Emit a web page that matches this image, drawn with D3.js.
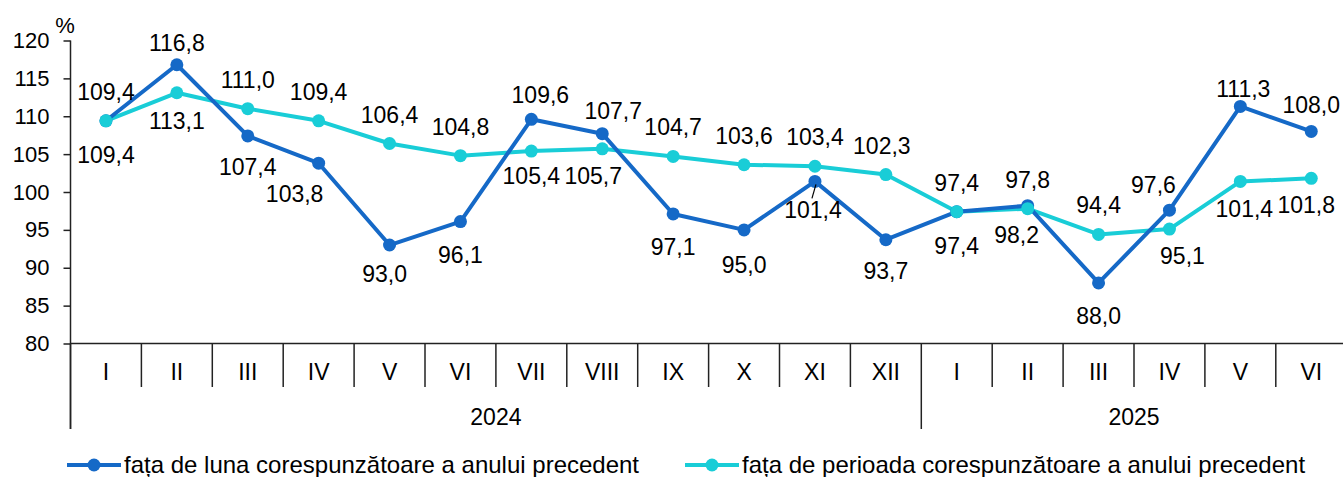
<!DOCTYPE html>
<html>
<head>
<meta charset="utf-8">
<script src="https://cdn.jsdelivr.net/npm/d3@7"></script>
<style>
  body { margin: 0; background: #fff; }
  svg { display: block; font-family: "Liberation Sans", Arial, sans-serif; }
  .axis text { font-size: 22px; fill: #000; }
  .axis path, .axis line { stroke: #222; stroke-width: 1.5; }
  .label { font-size: 23px; fill: #000; }
</style>
</head>
<body>
<div id="graphic"></div>
<script>
// months along the x axis, grouped by year
const months = ["I", "II", "III", "IV", "V", "VI", "VII", "VIII", "IX", "X", "XI", "XII",
                "I", "II", "III", "IV", "V", "VI"];
const yearLabels = ["2024", "2025"];
const monthsPerYear = [12, 6];

// fata de luna corespunzatoare a anului precedent
const lunaValues = [109.4, 116.8, 107.4, 103.8, 93.0, 96.1, 109.6, 107.7, 97.1, 95.0, 101.4, 93.7,
                    97.4, 98.2, 88.0, 97.6, 111.3, 108.0];
// fata de perioada corespunzatoare a anului precedent
const perioadaValues = [109.4, 113.1, 111.0, 109.4, 106.4, 104.8, 105.4, 105.7, 104.7, 103.6, 103.4, 102.3,
                        97.4, 97.8, 94.4, 95.1, 101.4, 101.8];

const seriesNames = ["fața de luna corespunzătoare a anului precedent",
                     "fața de perioada corespunzătoare a anului precedent"];

const yTicks = [80, 85, 90, 95, 100, 105, 110, 115, 120];

// which side of the point each value label sits on
const lunaSide = ["b", "a", "b", "b", "b", "b", "a", "a", "b", "b", "b", "b", "b", "b", "b", "a", "a", "a"];
const perioadaSide = ["a", "b", "a", "a", "a", "a", "b", "b", "a", "a", "a", "a", "a", "a", "a", "b", "b", "b"];

const width = 1343, height = 477;
const margin = {left: 70.5, right: 1346.7, top: 40.5, bottom: 343.5};
const colors = ["#1569c7", "#19cdd7"];

const svg = d3.select("#graphic").append("svg")
    .attr("width", width)
    .attr("height", height);

const x = d3.scaleBand()
    .domain(d3.range(months.length))
    .range([margin.left, margin.right]);

const y = d3.scaleLinear()
    .domain([80, 120])
    .range([margin.bottom, margin.top]);

// y axis
const gy = svg.append("g")
    .attr("class", "axis")
    .attr("transform", "translate(" + margin.left + ",0)")
    .call(d3.axisLeft(y).tickValues(yTicks).tickSize(7).tickPadding(14).tickSizeOuter(0));
gy.select(".domain").remove();
svg.append("line")
    .attr("x1", margin.left).attr("x2", margin.left)
    .attr("y1", margin.top).attr("y2", 429)
    .attr("stroke", "#222").attr("stroke-width", 1.5);

svg.append("text")
    .attr("class", "label")
    .style("font-size", "22px")
    .attr("x", 65).attr("y", 33)
    .attr("text-anchor", "middle")
    .text("%");

// x axis with month labels
const gx = svg.append("g")
    .attr("class", "axis")
    .attr("transform", "translate(0," + margin.bottom + ")")
    .call(d3.axisBottom(x).tickSize(0).tickPadding(20).tickFormat(i => months[i]));
gx.selectAll("text").style("font-size", "23px");
gx.select(".domain").attr("d", "M" + margin.left + ",0H" + margin.right);

// separators between months, longer ones between years
const yearStarts = [0];
monthsPerYear.forEach((n, i) => yearStarts.push(yearStarts[i] + n));
const edge = i => i < months.length ? x(i) : margin.right;
svg.append("g").selectAll("line")
    .data(d3.range(months.length + 1))
    .join("line")
    .attr("x1", edge)
    .attr("x2", edge)
    .attr("y1", margin.bottom)
    .attr("y2", i => yearStarts.includes(i) ? 429 : 387)
    .attr("stroke", "#222")
    .attr("stroke-width", 1.5);

svg.append("g").selectAll("text")
    .data(yearLabels)
    .join("text")
    .attr("class", "label")
    .attr("x", (d, i) => (edge(yearStarts[i]) + edge(yearStarts[i + 1])) / 2)
    .attr("y", 425)
    .attr("text-anchor", "middle")
    .text(d => d);

// lines and markers
const line = d3.line()
    .x((d, i) => x(i) + x.bandwidth() / 2)
    .y(d => y(d));

const series = [lunaValues, perioadaValues];

[1, 0].forEach(s => {
    svg.append("path")
        .datum(series[s])
        .attr("fill", "none")
        .attr("stroke", colors[s])
        .attr("stroke-width", 4)
        .attr("stroke-linejoin", "round")
        .attr("d", line);
});
[0, 1].forEach(s => {
    svg.append("g").selectAll("circle")
        .data(series[s])
        .join("circle")
        .attr("cx", (d, i) => x(i) + x.bandwidth() / 2)
        .attr("cy", d => y(d))
        .attr("r", 6.5)
        .attr("fill", colors[s]);
});

// value labels, with small nudges [dx, dy] where the original moved them
const fmt = v => d3.format(".1f")(v).replace(".", ",");
const lunaNudge = {0: [0, 3], 1: [0, 7], 3: [-24, 0], 4: [-5, -2], 5: [0, 2], 6: [9, 5], 7: [11, 6],
                   8: [0, 2], 9: [0, 4], 10: [-2, -2], 12: [0, 3], 13: [-11, -2], 14: [0, 2],
                   15: [-16, 4], 16: [3, 12], 17: [0, 3]};
const perioadaNudge = {1: [0, -3], 6: [0, -6], 7: [-9, -4], 11: [-4, 0], 15: [13, -4],
                       16: [4, -3], 17: [-5, -4]};

function addLabels(values, side, nudge) {
    svg.append("g").selectAll("text")
        .data(values)
        .join("text")
        .attr("class", "label")
        .attr("text-anchor", "middle")
        .attr("x", (d, i) => x(i) + x.bandwidth() / 2 + (nudge[i] ? nudge[i][0] : 0))
        .attr("y", (d, i) => y(d) + (side[i] === "a" ? -21 : 39) + (nudge[i] ? nudge[i][1] : 0))
        .text(d => fmt(d));
}
addLabels(lunaValues, lunaSide, lunaNudge);
addLabels(perioadaValues, perioadaSide, perioadaNudge);

// leader line for the XI label
svg.append("line")
    .attr("x1", x(10) + x.bandwidth() / 2 + 1)
    .attr("y1", y(lunaValues[10]) + 3)
    .attr("x2", x(10) + x.bandwidth() / 2 - 3)
    .attr("y2", y(lunaValues[10]) + 17)
    .attr("stroke", "#000")
    .attr("stroke-width", 1.2);

// legend
const legendX = [67, 685];
const legend = svg.append("g").selectAll("g")
    .data(seriesNames)
    .join("g")
    .attr("transform", (d, i) => "translate(" + legendX[i] + ",465)");
legend.append("line")
    .attr("x1", 0).attr("x2", 54)
    .attr("stroke", (d, i) => colors[i])
    .attr("stroke-width", 4);
legend.append("circle")
    .attr("cx", 27).attr("r", 6.5)
    .attr("fill", (d, i) => colors[i]);
legend.append("text")
    .attr("class", "label")
    .style("font-size", "24px")
    .attr("x", 57)
    .attr("dy", "0.35em")
    .text(d => d);
</script>
</body>
</html>
